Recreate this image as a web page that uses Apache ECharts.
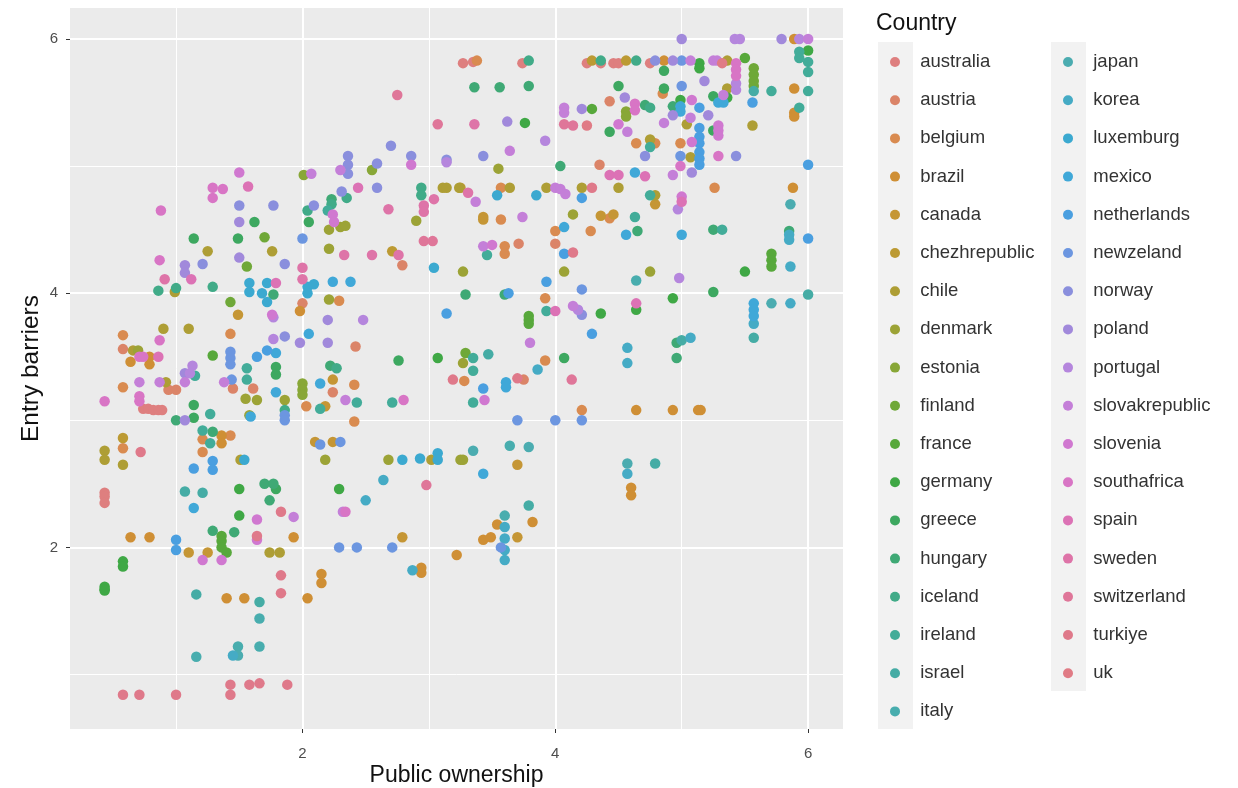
<!DOCTYPE html>
<html>
<head>
<meta charset="utf-8">
<title>Entry barriers</title>
<script src="https://cdn.jsdelivr.net/npm/echarts@6/dist/echarts.min.js"></script>
<style>
  html, body { margin: 0; padding: 0; background: #fff; }
  #main { width: 1238px; height: 788px; }
</style>
</head>
<body>
<div id="main"></div>
<script>
const countries = ['australia', 'austria', 'belgium', 'brazil', 'canada', 'chezhrepublic', 'chile', 'denmark', 'estonia', 'finland', 'france', 'germany', 'greece', 'hungary', 'iceland', 'ireland', 'israel', 'italy', 'japan', 'korea', 'luxemburg', 'mexico', 'netherlands', 'newzeland', 'norway', 'poland', 'portugal', 'slovakrepublic', 'slovenia', 'southafrica', 'spain', 'sweden', 'switzerland', 'turkiye', 'uk']
const colors = ['#DE7F7F', '#DB8468', '#D98B50', '#CF8F35', '#C59635', '#BC9A33', '#AE9E35', '#9CA336', '#88A737', '#6FA838', '#57A83B', '#3FA845', '#3DA860', '#3FA975', '#41AB88', '#42AC99', '#45ACA5', '#48ADAE', '#4BACB0', '#45ABC5', '#3BA9D0', '#40A8D8', '#4A9FE0', '#6C96E0', '#8A8FDD', '#A189DB', '#B586DD', '#C47FD8', '#D078D0', '#D875C5', '#DC72B5', '#DE74A8', '#DF7699', '#DF798A', '#E07B85']

const majorTicks = [2, 4, 6]
const minorTicks = [1, 3, 5]

const australia = [[3.27,5.81],[3.35,5.82],[3.74,5.81],[4.25,5.81],[4.36,5.81],[4.46,5.81],[4.50,5.81],[4.75,5.81],[0.74,3.09],[0.78,3.09],[0.82,3.08],[0.86,3.08],[0.89,3.08],[0.435,2.43],[0.435,2.40],[0.435,2.35]]
const austria = [[2.79,4.22],[0.58,3.56],[2.00,3.92],[2.42,3.58],[4.43,5.51],[4.35,5.01],[3.71,4.39],[4.00,4.39],[3.75,3.32],[0.94,3.24],[1.00,3.24],[1.45,3.25],[1.61,3.25],[2.24,3.22]]
const belgium = [[3.38,5.83],[0.58,3.67],[1.43,3.68],[2.29,3.94],[0.58,3.26],[2.03,3.11],[2.41,3.28],[2.41,2.99],[1.21,2.85],[1.21,2.75],[1.43,2.88],[0.58,2.78],[4.85,5.57],[4.64,5.18],[4.79,5.18],[4.99,5.18],[3.57,4.83],[3.57,4.58],[4.00,4.49],[4.28,4.49],[3.60,4.37],[3.60,4.31],[3.92,3.96],[3.92,3.47],[3.28,3.31],[4.21,3.08],[4.43,4.59],[5.26,4.83]]
const brazil = [[1.98,3.86],[0.64,3.46],[0.79,3.50],[0.79,3.44],[1.36,2.88],[1.36,2.82],[0.64,2.08],[0.79,2.08],[1.93,2.08],[3.22,1.94],[2.15,1.79],[2.15,1.72],[1.40,1.60],[1.54,1.60],[2.04,1.60],[2.94,1.84],[2.94,1.80],[4.86,5.83],[5.89,6.00],[5.89,5.61],[5.89,5.42],[5.89,5.39],[5.88,4.83],[4.64,3.08],[4.93,3.08],[5.13,3.08],[5.15,3.08],[4.60,2.47],[4.60,2.41],[3.54,2.18],[3.82,2.20],[3.43,2.06],[3.49,2.08]]
const canada = [[1.49,3.83],[2.24,3.32],[2.18,3.11],[2.10,2.83],[2.24,2.83],[3.43,4.60],[3.43,4.58],[4.36,4.61],[4.46,4.62],[4.79,4.70],[3.70,2.65],[2.79,2.08],[1.10,1.96],[1.25,1.96],[3.70,2.08]]
const chezhrepublic = [[0.58,2.86],[2.71,4.33],[4.29,5.83],[4.56,5.83],[3.25,4.83]]
const chile = [[0.66,3.55],[0.90,3.72],[1.10,3.72],[0.99,4.01],[1.25,4.33],[1.76,4.33],[3.11,4.83],[3.14,4.83],[3.24,4.83],[3.64,4.83],[3.93,4.83],[4.21,4.83],[4.50,4.83],[4.75,5.21],[4.79,4.77],[5.04,5.33],[5.07,5.07],[5.36,5.83],[5.36,5.61],[5.56,5.32],[0.92,3.30],[0.435,2.76],[0.435,2.69],[0.58,2.65],[1.51,2.69],[1.74,1.96],[1.82,1.96],[3.02,2.69]]
const denmark = [[0.70,3.55],[2.21,4.50],[2.30,4.52],[2.34,4.53],[2.90,4.57],[2.21,4.35],[2.21,3.95],[1.55,3.17],[1.64,3.16],[1.58,3.04],[1.86,3.16],[2.18,2.69],[2.68,2.69],[3.25,2.69],[3.27,2.69],[3.27,4.17],[4.07,4.17],[4.75,4.17],[4.14,4.62],[3.55,4.98],[3.27,3.45]]
const estonia = [[2.00,3.29],[2.00,3.24],[2.00,3.20],[4.56,5.43],[4.56,5.39],[2.55,4.97],[2.01,4.93]]
const finland = [[5.57,5.77],[5.57,5.72],[5.57,5.67],[5.57,5.63],[1.43,3.93],[1.70,4.44],[1.56,4.21],[3.29,3.53]]
const france = [[1.29,3.51],[4.29,5.45],[5.71,4.31],[5.71,4.26],[5.71,4.21],[1.36,2.09],[1.36,2.05],[1.36,2.00],[1.40,1.96],[3.79,3.82],[3.79,3.79],[3.79,3.76],[5.50,5.85]]
const germany = [[0.435,1.69],[0.435,1.67],[0.435,1.66],[0.58,1.89],[0.58,1.85],[1.50,2.46],[1.50,2.25],[2.29,2.46],[3.07,3.49],[5.50,4.17],[4.36,3.84],[4.64,3.87],[4.93,3.96],[5.14,5.81],[5.14,5.77],[3.76,5.34],[6.00,5.91],[5.36,5.54],[4.99,5.52]]
const greece = [[1.14,4.43],[1.49,4.43],[1.62,4.56],[2.05,4.56],[1.14,3.12],[1.14,3.02],[1.79,3.42],[1.79,3.36],[1.79,2.46],[2.76,3.47],[4.86,5.75],[4.86,5.61],[4.50,5.63],[4.43,5.27],[5.25,5.55],[5.25,5.28],[4.07,3.49],[5.25,4.01]]
const hungary = [[2.23,4.74],[1.77,3.99],[2.22,3.43],[1.70,2.50],[1.77,2.50],[1.74,2.37],[1.29,2.13],[1.46,2.12],[1.00,3.00],[1.29,2.91],[3.36,5.62],[3.56,5.62],[3.79,5.63],[4.71,5.48],[4.93,5.47],[3.29,3.99],[3.60,3.99],[4.04,5.00],[4.65,4.49],[5.25,4.50],[4.96,3.61],[4.96,3.49],[5.85,4.49]]
const iceland = [[2.35,4.75],[2.23,4.70],[2.04,4.65],[2.94,4.83],[2.94,4.77],[0.86,4.02],[1.00,4.04],[1.29,4.05],[1.86,3.08],[2.27,3.41],[3.79,5.83],[4.64,5.83],[4.36,5.83],[4.75,5.46]]
const ireland = [[1.27,3.05],[1.21,2.92],[1.27,2.82],[1.56,3.41],[1.56,3.32],[1.15,3.35],[2.43,3.14],[2.14,3.09],[2.71,3.14],[2.20,4.65],[4.75,4.77],[5.71,5.59],[6.00,5.59],[6.00,5.74],[6.00,5.82],[5.93,5.90],[5.93,5.85],[5.93,5.46],[5.32,4.50],[3.35,3.49],[3.35,3.39],[3.35,3.14],[3.93,3.86],[4.63,4.60],[3.46,4.30],[4.75,5.15]]
const israel = [[5.57,5.59],[6.00,3.99],[5.57,3.65],[5.00,3.63],[3.47,3.52],[4.79,2.66],[3.79,2.33],[1.07,2.44],[1.21,2.43],[1.16,1.63],[1.66,1.57]]
const italy = [[1.66,1.44],[1.16,1.14],[1.49,1.22],[1.66,1.22],[3.60,2.25],[3.64,2.80],[4.64,4.10]]
const japan = [[1.49,1.15],[3.79,2.79],[4.57,2.66],[5.71,3.92],[3.35,2.76],[5.86,4.70]]
const korea = [[1.45,1.15],[2.87,1.82],[2.64,2.53],[2.50,2.37],[3.60,2.16],[3.60,2.07],[3.60,1.98],[3.60,1.90],[4.57,2.58],[4.57,3.57],[4.57,3.45],[5.07,3.65],[5.86,3.92],[5.86,4.21],[3.86,3.40],[5.85,4.46],[5.85,4.42],[5.57,3.76]]
const luxemburg = [[2.04,4.05],[2.04,4.00],[2.09,4.07],[1.58,4.08],[1.58,4.01],[1.72,4.08],[1.68,4.00],[1.72,3.93],[3.04,4.20],[2.79,2.69],[2.93,2.70],[3.07,2.74],[3.07,2.69],[1.54,2.69],[3.54,4.77],[3.85,4.77]]
const mexico = [[2.24,4.09],[2.38,4.09],[2.05,3.68],[1.79,3.53],[1.79,3.22],[2.14,3.29],[1.59,3.03],[4.99,5.47],[4.99,5.43],[5.29,5.50],[5.33,5.50],[5.57,3.92],[5.57,3.87],[5.57,3.82],[4.07,4.52],[4.56,4.46],[5.00,4.46],[3.61,3.30],[3.61,3.26],[3.43,2.58],[1.14,2.31],[4.63,4.95]]
const netherlands = [[3.14,3.84],[1.64,3.50],[1.72,3.55],[1.14,2.62],[1.29,2.68],[1.29,2.61],[1.00,2.06],[1.00,1.98],[3.43,3.25],[5.14,5.46],[5.14,5.30],[5.14,5.23],[5.14,5.18],[5.14,5.11],[5.14,5.06],[5.14,5.01],[5.56,5.50],[6.00,5.01],[6.00,4.43],[3.63,4.00],[3.93,4.09],[4.21,4.75],[4.07,4.31],[4.29,3.68]]
const newzeland = [[2.00,4.43],[1.43,3.54],[1.43,3.49],[1.43,3.44],[1.44,3.32],[1.86,3.04],[1.86,3.00],[2.14,2.81],[2.30,2.83],[2.29,2.00],[2.43,2.00],[2.71,2.00],[5.00,5.83],[5.00,5.63],[4.99,5.08],[3.70,3.00],[4.00,3.00],[4.21,3.00],[3.57,2.00],[4.21,4.03]]
const norway = [[2.70,5.16],[2.86,5.08],[3.14,5.05],[2.36,5.08],[2.36,5.01],[2.36,4.94],[2.59,5.02],[2.59,4.83],[2.31,4.80],[1.50,4.69],[1.77,4.69],[2.09,4.69],[1.21,4.23],[1.86,4.23],[1.86,3.66],[3.43,5.08],[4.79,5.83],[4.71,5.08],[5.43,5.08],[4.21,3.83]]
const poland = [[1.50,4.56],[1.50,4.28],[1.07,4.22],[1.07,4.16],[2.20,3.79],[1.98,3.61],[2.20,3.61],[1.07,3.37],[1.07,3.00],[5.00,6.00],[5.79,6.00],[4.93,5.83],[4.55,5.54],[5.18,5.67],[4.21,5.45],[5.21,5.40],[3.62,5.35],[4.93,5.40],[5.08,4.95]]
const portugal = [[3.14,5.03],[2.48,3.79],[1.77,3.64],[1.77,3.81],[1.13,3.43],[1.11,3.37],[5.42,6.00],[5.46,6.00],[5.93,6.00],[5.43,5.60],[5.43,5.65],[3.92,5.20],[4.98,4.12],[4.97,4.66],[4.18,3.87]]
const slovakrepublic = [[2.30,4.97],[2.07,4.94],[2.34,3.16],[1.07,3.30],[0.71,3.30],[0.87,3.30],[1.38,3.30],[1.93,2.24],[2.32,2.28],[6.00,6.00],[5.07,5.83],[5.25,5.83],[5.28,5.83],[5.33,5.56],[4.07,5.46],[4.07,5.42],[4.86,5.34],[4.57,5.27],[5.07,5.38],[3.64,5.12],[4.00,4.83],[4.04,4.82],[4.08,4.78],[3.37,4.72],[3.74,4.60],[3.43,4.37],[3.80,3.61],[4.14,3.90],[4.93,4.93]]
const slovenia = [[1.50,4.95],[2.86,5.01],[2.24,4.62],[2.25,4.56],[1.76,3.83],[1.64,2.22],[1.64,2.06],[1.21,1.90],[1.36,1.90],[4.50,5.33],[5.08,5.52],[5.29,5.32],[5.29,5.28],[5.29,5.24],[5.08,5.19],[3.50,4.38],[3.44,3.16],[5.00,4.76]]
const southafrica = [[1.29,4.83],[1.37,4.82],[1.29,4.75],[0.88,4.65],[0.87,4.26],[0.87,3.63],[0.71,3.50],[0.74,3.50],[0.71,3.19],[0.71,3.15],[0.435,3.15],[2.34,2.28],[2.80,3.16],[5.43,5.81],[5.43,5.76],[5.43,5.71],[4.63,5.49],[4.63,5.44],[4.99,5.00],[5.29,5.08]]
const spain = [[1.57,4.84],[2.44,4.83],[1.79,4.08],[0.86,3.50],[1.12,4.11],[4.43,4.93],[4.50,4.93],[4.71,4.92],[5.00,4.72],[4.00,3.86],[4.64,3.92]]
const sweden = [[2.33,4.30],[2.55,4.30],[2.76,4.30],[2.68,4.66],[2.96,4.69],[2.96,4.64],[3.04,4.74],[2.00,4.20],[2.00,4.11],[0.91,4.11],[3.36,5.33],[3.31,4.79]]
const switzerland = [[2.75,5.56],[3.07,5.33],[2.96,4.41],[3.03,4.41],[4.07,5.33],[4.14,5.32],[4.13,3.32],[2.98,2.49]]
const turkiye = [[1.43,0.92],[1.43,0.84],[1.58,0.92],[1.66,0.93],[1.88,0.92],[0.58,0.84],[0.71,0.84],[1.00,0.84],[1.83,1.78],[1.83,1.64],[1.83,2.28],[1.64,2.09],[0.72,2.75],[3.19,3.32],[3.70,3.33],[4.14,4.32],[4.29,4.83]]
const uk = [[4.25,5.32],[5.32,5.81]]

const seriesValues = [australia, austria, belgium, brazil, canada, chezhrepublic, chile, denmark, estonia, finland, france, germany, greece, hungary, iceland, ireland, israel, italy, japan, korea, luxemburg, mexico, netherlands, newzeland, norway, poland, portugal, slovakrepublic, slovenia, southafrica, spain, sweden, switzerland, turkiye, uk]

const fontName = '"Liberation Sans", Arial, sans-serif'
const xRange = [0.161, 6.276]
const yRange = [0.571, 6.244]

function legendColumn (names, left) {
  return {
    orient: 'vertical',
    left: left,
    top: 47.5,
    data: names,
    icon: 'circle',
    itemWidth: 40.5,
    itemHeight: 10,
    itemGap: 19.2,
    selectedMode: false,
    textStyle: { fontFamily: fontName, fontSize: 18.5, color: '#333', lineHeight: 18 }
  }
}

// 粗线在偶数刻度，细线在奇数刻度
function valueAxis (range, name, nameGap, nameSize, labelMargin) {
  return [
    {
      type: 'value',
      min: range[0],
      max: range[1],
      name: name,
      nameLocation: 'middle',
      nameGap: nameGap,
      nameMoveOverlap: false,
      nameTextStyle: { fontFamily: fontName, fontSize: nameSize, color: '#111' },
      axisLine: { show: false },
      axisTick: { length: 4, lineStyle: { color: '#333' }, customValues: majorTicks },
      axisLabel: { fontFamily: fontName, fontSize: 15, color: '#4d4d4d', margin: labelMargin, customValues: majorTicks },
      splitLine: { lineStyle: { color: '#fff', width: 2 } }
    },
    {
      type: 'value',
      min: range[0],
      max: range[1],
      axisLine: { show: false },
      axisTick: { show: false, customValues: minorTicks },
      axisLabel: { show: false },
      splitLine: { lineStyle: { color: '#fff', width: 1 } }
    }
  ]
}

let myChart = echarts.init(document.getElementById('main'), null, { renderer: 'canvas' })
myChart.setOption({
  animation: false,
  backgroundColor: '#fff',
  color: colors,
  title: {
    text: 'Country',
    left: 871,
    top: 7,
    textStyle: { fontFamily: fontName, fontSize: 23, fontWeight: 'normal', color: '#111' }
  },
  grid: { left: 70, top: 8, width: 773, height: 721, backgroundColor: '#EBEBEB', show: true, borderWidth: 0, outerBoundsMode: 'none' },
  xAxis: valueAxis(xRange, 'Public ownership', 35, 23, 17),
  yAxis: valueAxis(yRange, 'Entry barriers', 26, 24.5, 12),
  legend: [legendColumn(countries.slice(0, 18), 885), legendColumn(countries.slice(18), 1058)],
  graphic: [
    { type: 'rect', shape: { x: 878, y: 42, width: 35, height: 687 }, style: { fill: '#F2F2F2' }, silent: true },
    { type: 'rect', shape: { x: 1051, y: 42, width: 35, height: 649 }, style: { fill: '#F2F2F2' }, silent: true }
  ],
  series: countries.map((name, i) => ({
    name: name,
    type: 'scatter',
    symbolSize: 10.5,
    data: seriesValues[i],
    itemStyle: { color: colors[i], opacity: 1 }
  }))
})
</script>
</body>
</html>
